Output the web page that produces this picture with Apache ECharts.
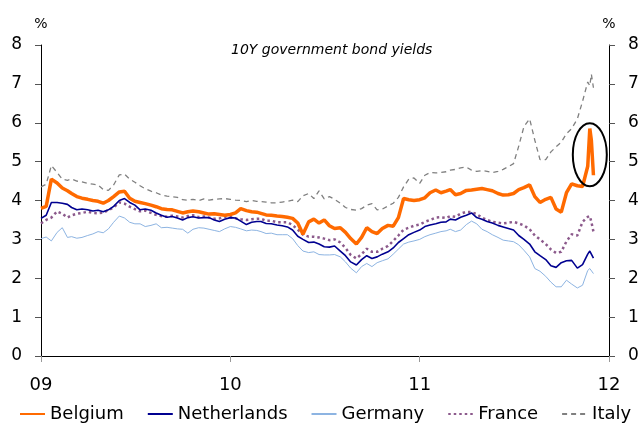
<!DOCTYPE html>
<html>
<head>
<meta charset="utf-8">
<script src="https://cdn.jsdelivr.net/npm/echarts@6/dist/echarts.min.js"></script>
<style>
  html, body { margin: 0; padding: 0; background: #fff; }
  #main { width: 638px; height: 423px; }
</style>
</head>
<body>
<div id="main"></div>
<script>
// sample dates: 1st, 11th, 21st of each month Jan 2009 - Nov 2011, plus late Nov 2011
const dayMs = 86400000;
const t0 = Date.UTC(2009, 0, 1);
const dates = [];
for (let y = 2009; y <= 2011; y++) {
  for (let m = 0; m < 12; m++) {
    if (y === 2011 && m === 11) break;
    [1, 11, 21].forEach(d => dates.push(Date.UTC(y, m, d)));
  }
}
dates.push(Date.UTC(2011, 10, 25), Date.UTC(2011, 10, 28), Date.UTC(2011, 11, 2));

const yearLabels = ['09', '10', '11', '12'];

const belgium = [
  3.80,3.85,4.55, 4.45,4.32,4.25, 4.18,4.10,4.06, 4.03,4.00,3.98, 3.93,4.00,4.10, 4.22,4.24,4.06,
  3.98,3.95,3.92, 3.88,3.84,3.79, 3.77,3.76,3.72, 3.68,3.71,3.73, 3.71,3.68,3.65, 3.66,3.64,3.62,
  3.64,3.68,3.79, 3.74,3.71,3.70, 3.67,3.63,3.62, 3.60,3.59,3.57, 3.54,3.42,3.13, 3.45,3.52,3.42,
  3.50,3.35,3.28, 3.30,3.18,3.02, 2.88,3.05,3.30, 3.20,3.15,3.28, 3.36,3.34,3.56, 4.05,4.02,4.00,
  4.02,4.07,4.20, 4.27,4.20,4.24, 4.28,4.15,4.18, 4.26,4.27,4.29, 4.31,4.28,4.25, 4.18,4.14,4.15,
  4.18,4.28,4.33, 4.40,4.10,3.95, 4.03,4.08,3.78, 3.70,4.20,4.43, 4.38,4.36,4.88,
  5.85,5.55,4.65
];
const netherlands = [
  3.54,3.62,3.95, 3.95,3.93,3.90, 3.82,3.76,3.78, 3.76,3.73,3.75, 3.71,3.76,3.85, 4.00,4.05,3.95,
  3.88,3.76,3.78, 3.75,3.68,3.62, 3.57,3.59,3.55, 3.50,3.56,3.58, 3.55,3.56,3.56, 3.50,3.46,3.52,
  3.56,3.55,3.47, 3.38,3.44,3.46, 3.46,3.41,3.40, 3.37,3.35,3.32, 3.24,3.08,3.00, 2.92,2.93,2.88,
  2.81,2.80,2.83, 2.70,2.58,2.42, 2.34,2.48,2.58, 2.51,2.55,2.62, 2.68,2.78,2.92, 3.02,3.12,3.18,
  3.24,3.33,3.37, 3.40,3.44,3.45, 3.52,3.50,3.57, 3.62,3.68,3.56, 3.52,3.46,3.42, 3.36,3.32,3.28,
  3.24,3.10,3.00, 2.88,2.68,2.58, 2.48,2.32,2.28, 2.40,2.45,2.46, 2.26,2.35,2.62,
  2.70,2.70,2.52
];
const germany = [
  3.02,3.06,2.96, 3.18,3.30,3.05, 3.07,3.03,3.05, 3.10,3.14,3.20, 3.17,3.27,3.44, 3.60,3.55,3.44,
  3.40,3.40,3.33, 3.36,3.40,3.30, 3.31,3.29,3.27, 3.26,3.16,3.26, 3.30,3.29,3.26, 3.23,3.20,3.27,
  3.33,3.31,3.27, 3.22,3.24,3.23, 3.20,3.15,3.16, 3.12,3.12,3.12, 3.02,2.84,2.70, 2.66,2.68,2.61,
  2.60,2.60,2.61, 2.55,2.42,2.26, 2.14,2.30,2.38, 2.30,2.40,2.45, 2.50,2.62,2.75, 2.88,2.93,2.96,
  3.00,3.07,3.12, 3.16,3.20,3.22, 3.26,3.20,3.24, 3.38,3.47,3.40, 3.26,3.20,3.12, 3.05,2.98,2.96,
  2.94,2.86,2.72, 2.55,2.25,2.18, 2.05,1.90,1.78, 1.78,1.95,1.85, 1.75,1.82,2.20,
  2.25,2.20,2.12
];
const france = [
  3.41,3.50,3.56, 3.72,3.66,3.56, 3.62,3.66,3.68, 3.71,3.68,3.67, 3.69,3.75,3.82, 3.95,3.92,3.84,
  3.78,3.72,3.74, 3.68,3.63,3.60, 3.58,3.61,3.59, 3.56,3.60,3.62, 3.57,3.59,3.56, 3.53,3.54,3.58,
  3.57,3.54,3.52, 3.50,3.52,3.53, 3.53,3.48,3.48, 3.44,3.44,3.44, 3.37,3.25,3.12, 3.07,3.07,3.05,
  3.02,2.98,3.00, 2.92,2.78,2.60, 2.51,2.62,2.76, 2.68,2.68,2.76, 2.83,2.96,3.10, 3.25,3.30,3.35,
  3.38,3.45,3.50, 3.56,3.57,3.55, 3.60,3.58,3.66, 3.71,3.70,3.65, 3.56,3.50,3.45, 3.43,3.41,3.43,
  3.45,3.41,3.36, 3.26,3.10,3.00, 2.88,2.74,2.65, 2.68,2.95,3.13, 3.10,3.45,3.58,
  3.60,3.45,3.20
];
const italy = [
  4.35,4.42,4.90, 4.72,4.55,4.52, 4.55,4.50,4.48, 4.44,4.42,4.40, 4.28,4.26,4.40, 4.66,4.68,4.55,
  4.47,4.38,4.30, 4.24,4.20,4.14, 4.11,4.10,4.08, 4.02,4.01,4.03, 4.00,4.04,4.01, 4.03,4.04,4.05,
  4.03,4.01,4.00, 3.97,4.00,3.98, 3.97,3.96,3.94, 3.94,3.96,3.98, 4.01,3.97,4.12, 4.18,4.05,4.25,
  4.04,4.10,4.03, 3.93,3.82,3.77, 3.75,3.79,3.88, 3.92,3.76,3.78, 3.86,3.93,4.08, 4.35,4.55,4.58,
  4.44,4.65,4.72, 4.71,4.72,4.74, 4.78,4.80,4.84, 4.86,4.78,4.75, 4.77,4.75,4.72, 4.75,4.80,4.87,
  4.95,5.40,5.90, 6.10,5.55,5.05, 5.05,5.25,5.38, 5.50,5.72,5.85, 6.10,6.55,7.05,
  6.95,7.25,6.90
];

// circled Belgian spike (centre in data units: day offset, yield; radii in px)
const spikeDay = 1058;
const spikeYield = 5.18;

const font = 'DejaVu Sans';

function toPairs(vals) {
  return dates.map((d, i) => [(d - t0) / dayMs, vals[i]]);
}

function yAxisOpt(pos) {
  return {
    type: 'value',
    position: pos,
    min: 0,
    max: 8,
    interval: 1,
    name: '%',
    nameLocation: 'end',
    nameGap: 14,
    nameTextStyle: {fontFamily: font, fontSize: 14, color: '#000'},
    axisLine: {show: true, lineStyle: {color: '#000', width: 1}},
    axisTick: {show: true, length: 6, lineStyle: {color: '#555'}},
    axisLabel: {fontFamily: font, fontSize: 17, color: '#000', margin: 19},
    splitLine: {show: false}
  };
}

const myChart = echarts.init(document.getElementById('main'));
myChart.setOption({
  animation: false,
  backgroundColor: '#fff',
  title: {
    text: '10Y government bond yields',
    left: 226,
    top: 38,
    textStyle: {fontFamily: font, fontSize: 14, fontStyle: 'italic', fontWeight: 'normal', color: '#000'}
  },
  grid: {left: 41, right: 29, top: 45, bottom: 67, outerBoundsMode: 'none', containLabel: false},
  legend: {
    left: 19,
    top: 405,
    padding: 0,
    itemWidth: 25,
    itemHeight: 12,
    itemGap: 23,
    itemStyle: {opacity: 0},
    textStyle: {fontFamily: font, fontSize: 18, color: '#000'},
    data: ['Belgium', 'Netherlands', 'Germany', 'France', 'Italy']
  },
  xAxis: {
    type: 'value',
    min: 0,
    max: 1095,
    interval: 365,
    axisLine: {lineStyle: {color: '#000', width: 1}},
    axisTick: {length: 6, lineStyle: {color: '#999'}},
    axisLabel: {
      fontFamily: font, fontSize: 18, color: '#000', margin: 20,
      formatter: v => yearLabels[Math.round(v / 365)]
    },
    splitLine: {show: false}
  },
  yAxis: [yAxisOpt('left'), yAxisOpt('right')],
  series: [
    {name: 'Belgium', type: 'line', symbol: 'none', z: 10, data: toPairs(belgium),
      lineStyle: {color: '#ff6a00', width: 3.5}, itemStyle: {color: '#ff6a00'}},
    {name: 'Netherlands', type: 'line', symbol: 'none', z: 8, data: toPairs(netherlands),
      lineStyle: {color: '#000090', width: 1.6}, itemStyle: {color: '#000090'}},
    {name: 'Germany', type: 'line', symbol: 'none', z: 6, data: toPairs(germany),
      lineStyle: {color: '#8db4e2', width: 1}, itemStyle: {color: '#8db4e2'}},
    {name: 'France', type: 'line', symbol: 'none', z: 7, data: toPairs(france),
      lineStyle: {color: '#8c5a8c', width: 2.5, type: [2.5, 3]}, itemStyle: {color: '#8c5a8c'}},
    {name: 'Italy', type: 'line', symbol: 'none', z: 5, data: toPairs(italy),
      lineStyle: {color: '#808080', width: 1.3, type: [5, 4]}, itemStyle: {color: '#808080'}}
  ]
});

const c = myChart.convertToPixel({gridIndex: 0}, [spikeDay, spikeYield]);
myChart.setOption({
  graphic: [{
    type: 'ellipse',
    shape: {cx: c[0], cy: c[1], rx: 17, ry: 31.5},
    style: {fill: 'none', stroke: '#000', lineWidth: 2},
    z: 100
  }]
});
</script>
</body>
</html>
